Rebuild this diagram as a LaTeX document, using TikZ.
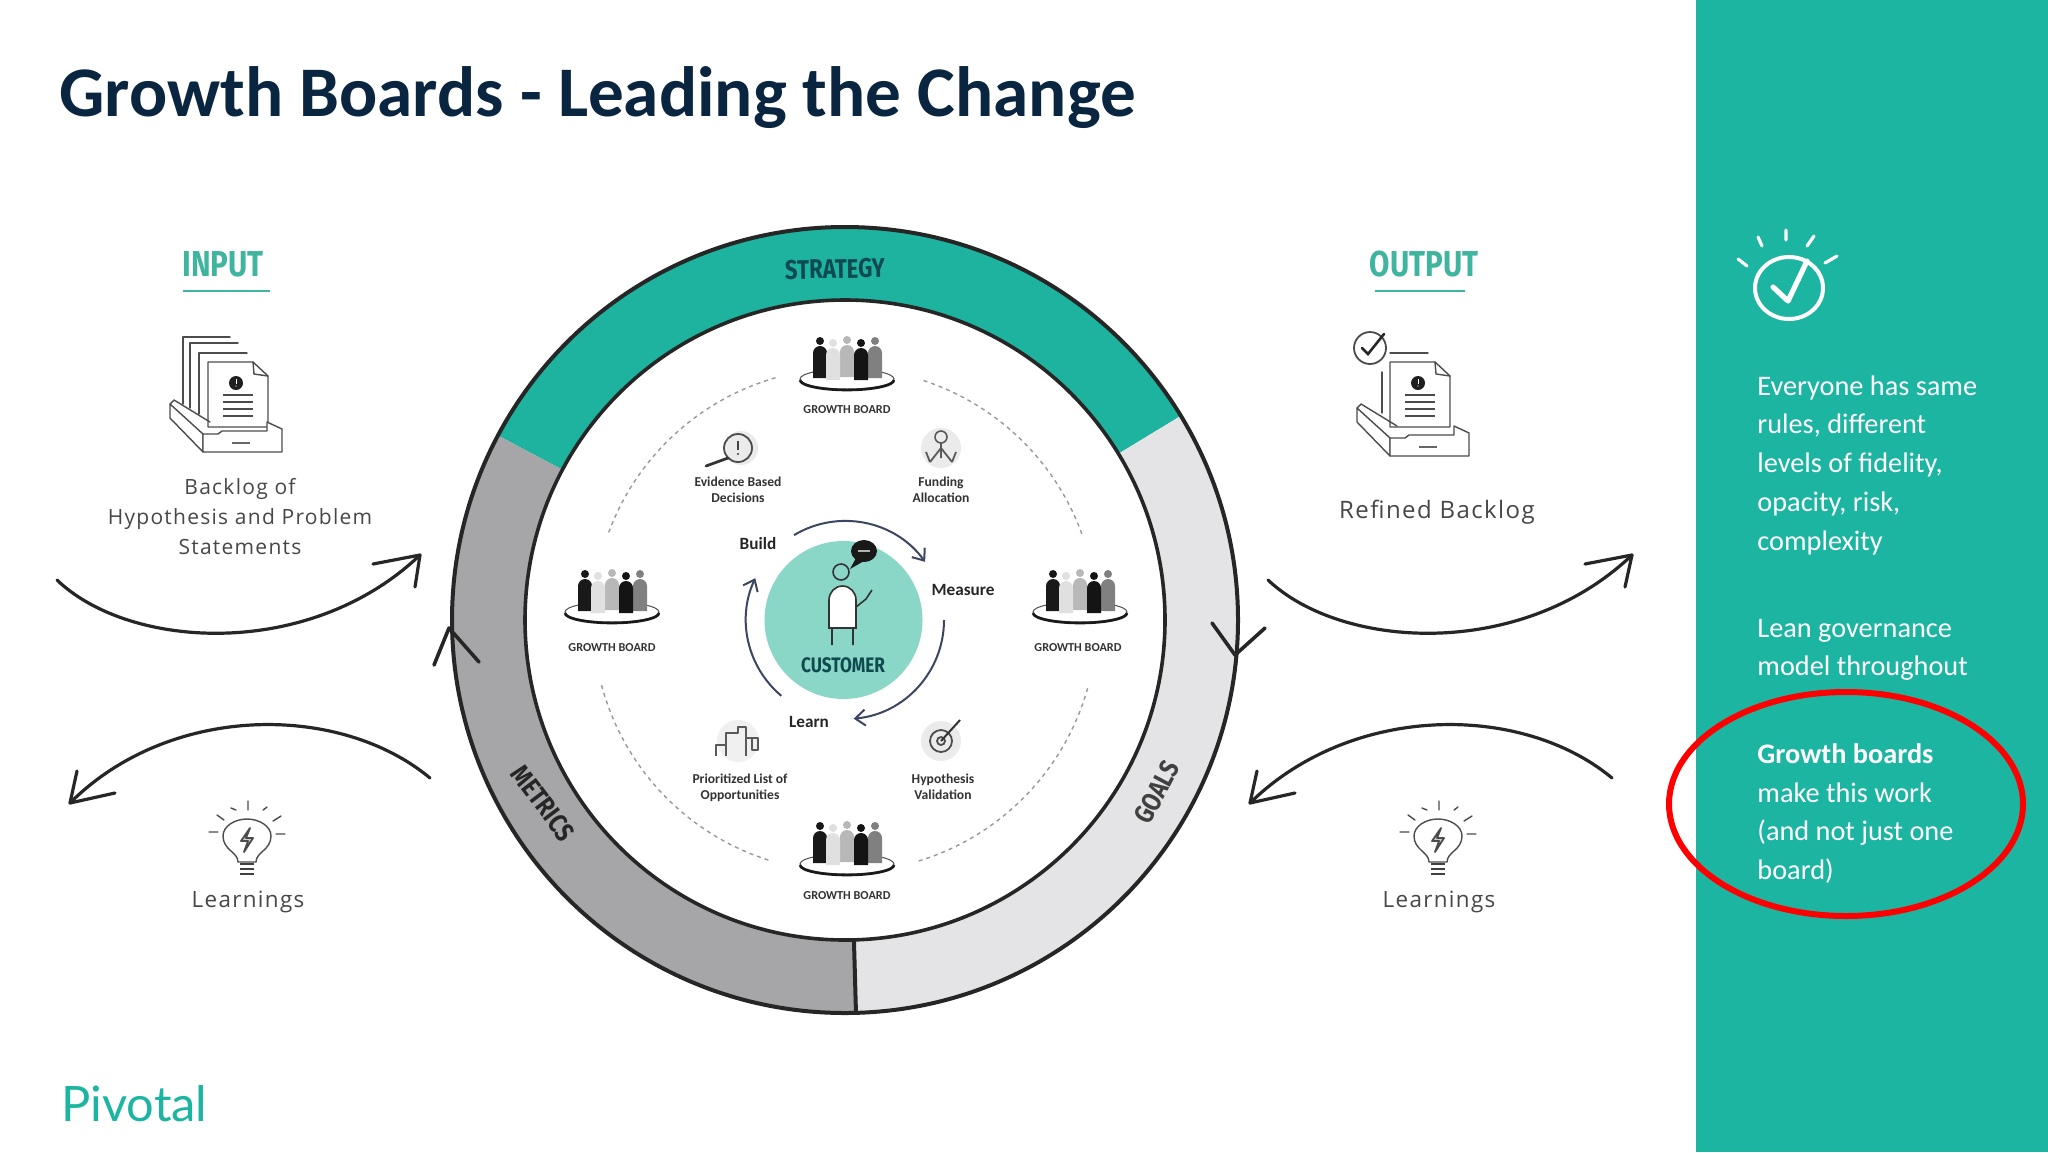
\documentclass[tikz,border=0pt]{standalone}
\usepackage{fontspec}
\setmainfont{Carlito}
\newfontfamily\sketch[LetterSpace=6]{Open Sans}
\newfontfamily\marker[FakeStretch=0.82]{Fira Sans}
\newfontfamily\logofont{Lato}
\usetikzlibrary{arrows.meta,shapes.geometric}
\definecolor{panel}{HTML}{1CB5A1}
\definecolor{ringteal}{HTML}{1DB39E}
\definecolor{ringdark}{HTML}{A6A6A8}
\definecolor{ringlight}{HTML}{E4E4E6}
\definecolor{navy}{HTML}{0A2540}
\definecolor{mint}{HTML}{8AD7C7}
\definecolor{deepteal}{HTML}{0F4A50}
\definecolor{headteal}{HTML}{3FB49F}
\definecolor{ink}{HTML}{262626}
\definecolor{cyc}{HTML}{3C4660}
\tikzset{
  sidetext/.style={anchor=north west,inner sep=0pt,align=left,text=white,font=\fontsize{14.15}{19.4}\selectfont},
  flow/.style={draw=ink,line width=1.6pt,line cap=round},
  head/.style={draw=ink,line width=1.6pt,line cap=round,line join=round},
  handlabel/.style={inner sep=0pt,text=black!72,font=\sketch\fontsize{10.5}{12}\selectfont},
  titlehead/.style={inner sep=0pt,text=headteal,font=\marker\bfseries\fontsize{18}{20}\selectfont},
  headrule/.style={draw=headteal,line width=1.1pt},
  boardlabel/.style={inner sep=0pt,text=black!80,font=\bfseries\fontsize{6.1}{7}\selectfont},
  minilabel/.style={inner sep=0pt,align=center,text=black!80,font=\bfseries\fontsize{6.8}{8}\selectfont},
  steplabel/.style={inner sep=0pt,text=black!85,font=\bfseries\fontsize{8.6}{10}\selectfont},
  ringlabel/.style={inner sep=0pt,text=deepteal,font=\marker\bfseries\fontsize{13.5}{14}\selectfont},
  dots/.style={draw=black!40,line width=.7pt,dash pattern=on 2pt off 2pt},
  cycarrow/.style={draw=cyc,line width=1pt,-{Straight Barb[length=5pt,width=8pt]}},
  sketchline/.style={draw=black!70,line width=.7pt,line join=round,line cap=round},
  person/.pic={\fill[pic actions] (-7,-1) -- (-7,-26) to[out=90,in=180] (0,-33) to[out=0,in=90] (7,-26) -- (7,-1) -- cycle;
    \fill[pic actions] (0,-38) circle (4);},
  board/.pic={
    \draw[line width=.5pt,draw=black!70] (0,0) ellipse [x radius=23.5pt,y radius=5pt];
    \draw[line width=1.3pt,draw=black!90] (-47,1) arc[start angle=180,end angle=360,x radius=23.5pt,y radius=5pt];
    \pic[fill=black!90] at (-27,0) {person};
    \pic[fill=black!50] at (28,0) {person};
    \pic[fill=black!28] at (0,-1) {person};
    \pic[fill=black!12] at (-14,2) {person};
    \pic[fill=black!92] at (14,2) {person};
  },
  tray/.pic={
    \draw[sketchline,fill=white] (0,0) -- (0,14) -- (33,48) -- (33,30) -- cycle;
    \draw[sketchline,fill=white] (33,30) -- (48,30) -- (52,27) -- (97,27) -- (97,18) -- (112,25) -- (112,48) -- (33,48) -- cycle;
    \draw[sketchline] (0,0) -- (4,-4) -- (40,18);
    \draw[draw=black!60,line width=1pt] (62,39) -- (80,39);
  },
  docpage/.pic={
    \draw[sketchline,fill=white] (0,0) -- (45,0) -- (60,14) -- (60,65) -- (0,65) -- cycle;
    \draw[sketchline] (45,0) -- (46,12) -- (60,14);
    \fill[black!88] (28,21) circle (7);
    \fill[white] (27.5,17) rectangle (28.5,22);
    \fill[white] (28,24) circle (.6);
    \foreach \yy in {33,40,47,54} {\draw[draw=black!70,line width=.8pt] (15,\yy) -- (45,\yy);}
  },
  bulb/.pic={
    \draw[sketchline] (-9,24) .. controls (-9,14) and (-24,12) .. (-24,-2) .. controls (-24,-12) and (-12,-19) .. (0,-19) .. controls (12,-19) and (24,-12) .. (24,-2) .. controls (24,12) and (9,14) .. (9,24) -- cycle;
    \draw[sketchline,line width=.9pt,fill=black!20] (3,-10) -- (-6,3) -- (1,3) -- (-3,14) -- (6,0) -- (-1,0) -- cycle;
    \foreach \yy in {26,31,36} {\draw[draw=black!75,line width=1.1pt] (-7,\yy) -- (7,\yy);}
    \draw[sketchline] (-38,-6) -- (-29,-6) (-30,-23) -- (-23,-18) (-16,-30) -- (-11,-28) (1,-37) -- (1,-28) (16,-28) -- (20,-31) (26,-17) -- (34,-22) (29,-4) -- (38,-4);
  }
}
\begin{document}
\begin{tikzpicture}[x=.5pt,y=-.5pt]
\useasboundingbox (0,0) rectangle (2048,1152);
\fill[white] (0,0) rectangle (2048,1152);
\fill[panel] (1696,0) rectangle (2048,1152);

% title and logo
\node[anchor=west,inner sep=0pt,text=navy,font=\bfseries\fontsize{35.6}{38}\selectfont] (title) at (59,98) {Growth Boards - Leading the Change};
\node[anchor=west,inner sep=0pt,text=panel,font=\logofont\fontsize{24.4}{26}\selectfont] (logo) at (61,1104) {Pivotal};

% ring
\coordinate (ctr) at (845,620);
\begin{scope}[shift={(ctr)}]
  \fill[ringteal] (31.3:196.5pt) arc[start angle=31.3,end angle=152,radius=196.5pt] -- (152:160pt) arc[start angle=152,end angle=31.3,radius=160pt] -- cycle;
  \fill[ringdark] (152:196.5pt) arc[start angle=152,end angle=271.6,radius=196.5pt] -- (271.6:160pt) arc[start angle=271.6,end angle=152,radius=160pt] -- cycle;
  \fill[ringlight] (271.6:196.5pt) arc[start angle=271.6,end angle=391.3,radius=196.5pt] -- (391.3:160pt) arc[start angle=391.3,end angle=271.6,radius=160pt] -- cycle;
  \draw[ink,line width=2pt] (0,0) circle (196.5pt);
  \draw[ink,line width=1.8pt] (0,0) circle (160pt);
  \draw[ink,line width=2pt] (271.6:160pt) -- (271.6:196.5pt);
  \draw[dots] (20:126pt) arc[start angle=20,end angle=72,radius=126pt];
  \draw[dots] (106:126pt) arc[start angle=106,end angle=160,radius=126pt];
  \draw[dots] (195:126pt) arc[start angle=195,end angle=253,radius=126pt];
  \draw[dots] (287:126pt) arc[start angle=287,end angle=345,radius=126pt];
  \draw[cycarrow] (121:49.5pt) arc[start angle=121,end angle=36,radius=49.5pt];
  \draw[cycarrow] (0:49.5pt) arc[start angle=0,end angle=-85,radius=49.5pt];
  \draw[cycarrow] (230:49.5pt) arc[start angle=230,end angle=155,radius=49.5pt];
\end{scope}
\draw[head,line width=1.8pt] (1212,623) -- (1235,655) -- (1265,628);
\draw[head,line width=1.8pt] (434,665) -- (449,628) -- (479,662);

\node[ringlabel,rotate=1] (strategy) at (835,269) {STRATEGY};
\node[ringlabel,rotate=-53,text=black!85] (metrics) at (543,803) {METRICS};
\node[ringlabel,rotate=62,text=black!75] (goals) at (1157,792) {GOALS};

% customer
\node[circle,fill=mint,minimum size=79pt,inner sep=0pt] (cust) at (843.5,620) {};
\draw[black!80,line width=.8pt,fill=white] (829,628) -- (829,600) to[out=90,in=180] (842.5,586) to[out=0,in=90] (856,600) -- (856,628) -- cycle;
\draw[black!80,line width=.8pt,fill=mint] (841,572) circle (8);
\draw[black!80,line width=.8pt] (832,628) -- (832,645) (853,628) -- (853,645) (856,607) -- (866,599) -- (872,590);
\fill[black!90] (864,551) ellipse [x radius=6.5pt,y radius=5.5pt];
\fill[black!90] (856,558) -- (850,569) -- (864,561) -- cycle;
\draw[white!70!black,line width=.8pt] (858,551) -- (870,551);
\node[inner sep=0pt,text=deepteal,font=\marker\bfseries\fontsize{10.5}{12}\selectfont] (custlabel) at (843,665) {CUSTOMER};

\node[steplabel] (build) at (758,544) {Build};
\node[steplabel] (measure) at (963,590) {Measure};
\node[steplabel] (learn) at (809,722) {Learn};

% growth boards
\pic at (847,379) {board};
\pic at (612,612) {board};
\pic at (1080,612) {board};
\pic at (847,864) {board};
\node[boardlabel] (gb1) at (847,410) {GROWTH BOARD};
\node[boardlabel] (gb2) at (612,648) {GROWTH BOARD};
\node[boardlabel] (gb3) at (1078,648) {GROWTH BOARD};
\node[boardlabel] (gb4) at (847,896) {GROWTH BOARD};

% small icons
\fill[black!8] (741,448) circle (17);
\draw[black!70,line width=.9pt] (738,448) circle (14);
\draw[black!80,line width=1.4pt,line cap=round] (728,458) -- (706,466);
\fill[black!75] (737,441) rectangle (739,450);
\fill[black!75] (738,454) circle (1.2);
\node[minilabel] (ev) at (738,490) {Evidence Based\\Decisions};

\fill[black!8] (941,448) circle (20);
\draw[black!65,line width=.8pt] (941,437) circle (6);
\draw[black!65,line width=.9pt] (941,443) -- (941,458) (941,448) -- (930,462) (941,448) -- (952,462) (930,462) -- (926,452) (952,462) -- (956,452);
\node[minilabel] (fa) at (941,490) {Funding\\Allocation};

\fill[black!6] (738,741) circle (21);
\draw[black!65,line width=.8pt,line join=round] (716,756) -- (716,745) -- (726,745) -- (726,756) (726,756) -- (726,733) -- (738,733) -- (738,727) -- (746,727) -- (746,756) (746,738) -- (758,738) -- (758,750) -- (752,750) -- (752,738);
\node[minilabel] (pl) at (740,788) {Prioritized List of\\Opportunities};

\fill[black!8] (941,741) circle (20);
\draw[black!70,line width=.9pt] (941,741) circle (11);
\draw[black!70,line width=.9pt] (941,741) circle (4);
\draw[black!80,line width=1pt] (941,741) -- (960,720);
\node[minilabel] (hv) at (943,787) {Hypothesis\\Validation};

% input column
\node[titlehead] (input) at (223,264) {INPUT};
\coordinate (inruleL) at (183,291);
\coordinate (inruleR) at (270,291);
\draw[headrule] (inruleL) -- (inruleR);
\draw[sketchline] (183,404) -- (183,337) -- (230,337);
\draw[sketchline] (190,408) -- (190,343) -- (238,343);
\draw[sketchline] (199,414) -- (199,353) -- (247,353);
\pic at (208,362) {docpage};
\pic at (170,404) {tray};
\node[handlabel] (in1) at (240,489) {Backlog of};
\node[handlabel] (in2) at (240,519) {Hypothesis and Problem};
\node[handlabel] (in3) at (240,547) {Statements};

\coordinate (a1s) at (57,580);
\coordinate (a1e) at (420,555);
\draw[flow] (a1s) .. controls (130,650) and (310,660) .. (a1e);
\draw[head] (373,564) -- (a1e) -- (415,587);
\coordinate (a2s) at (430,778);
\coordinate (a2e) at (70,803);
\draw[flow] (a2s) .. controls (340,703) and (170,703) .. (a2e);
\draw[head] (77,771) -- (a2e) -- (115,793);
\pic at (247,838) {bulb};
\node[handlabel,font=\sketch\fontsize{11.2}{12}\selectfont] (l1) at (248,902) {Learnings};

% output column
\node[titlehead] (output) at (1424,264) {OUTPUT};
\coordinate (outruleL) at (1375,291);
\coordinate (outruleR) at (1465,291);
\draw[headrule] (outruleL) -- (outruleR);
\draw[sketchline] (1382,413) -- (1382,372);
\draw[sketchline] (1390,353) -- (1428,353);
\pic at (1390,362) {docpage};
\pic at (1357,408) {tray};
\draw[sketchline,line width=.9pt,fill=white] (1370,348) circle (16);
\draw[black!85,line width=1.3pt,line cap=round] (1362,348) -- (1368,354) -- (1384,334);
\node[handlabel,font=\sketch\fontsize{12}{13}\selectfont] (rb) at (1437,512) {Refined Backlog};

\coordinate (a3s) at (1268,580);
\coordinate (a3e) at (1632,555);
\draw[flow] (a3s) .. controls (1342,650) and (1522,660) .. (a3e);
\draw[head] (1585,564) -- (a3e) -- (1625,587);
\coordinate (a4s) at (1612,778);
\coordinate (a4e) at (1250,803);
\draw[flow] (a4s) .. controls (1522,703) and (1352,703) .. (a4e);
\draw[head] (1257,771) -- (a4e) -- (1295,793);
\pic at (1438,838) {bulb};
\node[handlabel,font=\sketch\fontsize{11.2}{12}\selectfont] (l2) at (1439,902) {Learnings};

% side panel
\begin{scope}[white,line cap=round]
  \draw[line width=2pt] (1789,288) ellipse [x radius=17pt,y radius=15.5pt];
  \draw[line width=2.6pt,line join=round] (1773,287) -- (1788,301) -- (1807,261);
  \draw[line width=1.6pt] (1738,259) -- (1747,266) (1758,237) -- (1762,246) (1786,230) -- (1786,240) (1814,236) -- (1807,246) (1837,256) -- (1825,263);
\end{scope}
\node[sidetext] (p1) at (1757,375) {Everyone has same\\rules, different\\levels of fidelity,\\opacity, risk,\\complexity};
\node[sidetext] (p2) at (1757,618.5) {Lean governance\\model throughout};
\node[sidetext] (p3) at (1757,743) {\textbf{Growth boards}\\make this work\\(and not just one\\board)};
\node[draw=red,line width=3pt,ellipse,minimum width=177pt,minimum height=112pt,inner sep=0pt] (mark) at (1846,804) {};
\end{tikzpicture}
\end{document}
